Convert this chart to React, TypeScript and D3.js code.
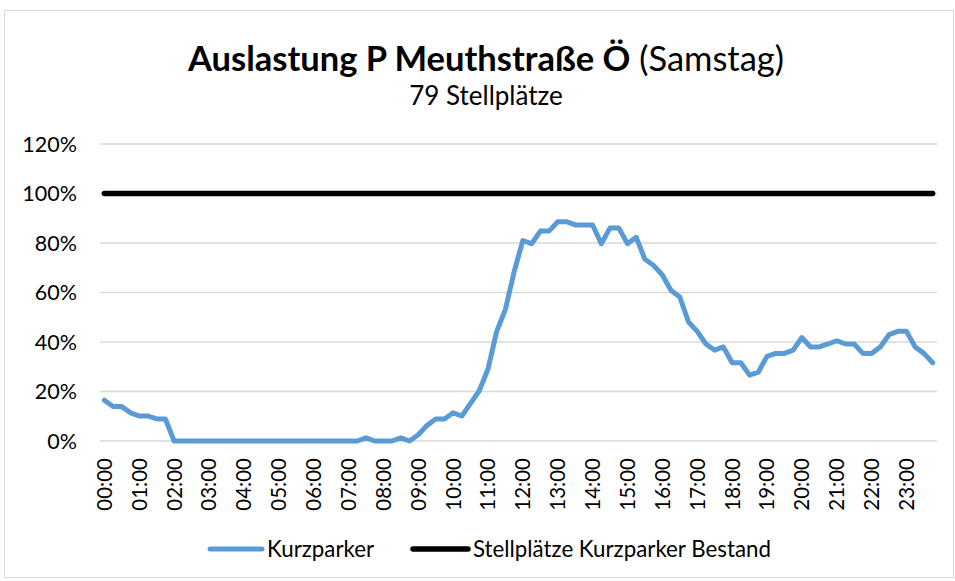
import React from "react";
import * as d3 from "d3";

const hourLabels = ["00:00","01:00","02:00","03:00","04:00","05:00","06:00","07:00","08:00","09:00","10:00","11:00","12:00","13:00","14:00","15:00","16:00","17:00","18:00","19:00","20:00","21:00","22:00","23:00"];
const quarterSuffix = ["00", "15", "30", "45"];
const categories: string[] = hourLabels.flatMap((h) => quarterSuffix.map((q) => h.slice(0, 3) + q));

// Kurzparker occupancy in percent, one value per quarter hour
const kurzparker = [
  16.5, 13.9, 13.9, 11.4, 10.1, 10.1, 8.9, 8.9,
  0, 0, 0, 0, 0, 0, 0, 0,
  0, 0, 0, 0, 0, 0, 0, 0,
  0, 0, 0, 0, 0, 0, 1.3, 0,
  0, 0, 1.3, 0, 2.5, 6.3, 8.9, 8.9,
  11.4, 10.1, 15.2, 20.3, 29.1, 44.3, 53.2, 68.4,
  81.0, 79.7, 84.8, 84.8, 88.6, 88.6, 87.3, 87.3,
  87.3, 79.7, 86.1, 86.1, 79.7, 82.3, 73.4, 70.9,
  67.1, 60.8, 58.2, 48.1, 44.3, 39.2, 36.7, 38.0,
  31.6, 31.6, 26.6, 27.8, 34.2, 35.4, 35.4, 36.7,
  41.8, 38.0, 38.0, 39.2, 40.5, 39.2, 39.2, 35.4,
  35.4, 38.0, 43.0, 44.3, 44.3, 38.0, 35.4, 31.6,
];

// Stellplätze Kurzparker Bestand (capacity) in percent
const bestand = [
  100, 100, 100, 100, 100, 100, 100, 100, 100, 100, 100, 100,
  100, 100, 100, 100, 100, 100, 100, 100, 100, 100, 100, 100,
  100, 100, 100, 100, 100, 100, 100, 100, 100, 100, 100, 100,
  100, 100, 100, 100, 100, 100, 100, 100, 100, 100, 100, 100,
  100, 100, 100, 100, 100, 100, 100, 100, 100, 100, 100, 100,
  100, 100, 100, 100, 100, 100, 100, 100, 100, 100, 100, 100,
  100, 100, 100, 100, 100, 100, 100, 100, 100, 100, 100, 100,
  100, 100, 100, 100, 100, 100, 100, 100, 100, 100, 100, 100,
];

const yTicks = [0, 20, 40, 60, 80, 100, 120];

const FONT = "Lato, 'Open Sans', sans-serif";

export default function App() {
  const W = 955, H = 581;
  const left = 100, right = 937, top = 144, bottom = 441;

  const x = d3.scaleBand<string>().domain(categories).range([left, right]).padding(0);
  const cx = (c: string) => (x(c) as number) + x.bandwidth() / 2;
  const y = d3.scaleLinear().domain([0, 120]).range([bottom, top]);

  const line = d3.line<number>()
    .x((_, i) => cx(categories[i]))
    .y((d) => y(d));

  return (
    <svg width={W} height={H} style={{ position: "fixed", left: 0, top: 0, background: "#fff" }} fontFamily={FONT}>
      <rect x={0} y={0} width={W} height={H} fill="#fff" />
      <rect x={4.5} y={10.5} width={949} height={567} fill="#fff" stroke="#D9D9D9" strokeWidth={1} />

      <text x={486} y={71} textAnchor="middle" fontSize={34.5} fill="#000">
        <tspan fontWeight="bold">Auslastung P Meuthstraße Ö</tspan>
        <tspan> (Samstag)</tspan>
      </text>
      <text x={486} y={105} textAnchor="middle" fontSize={26} fill="#000">79 Stellplätze</text>

      {yTicks.map((t) => (
        <g key={t}>
          <line x1={left} x2={right} y1={y(t)} y2={y(t)} stroke="#D9D9D9" strokeWidth={1.3} />
          <text x={77} y={y(t)} dy="0.36em" textAnchor="end" fontSize={21.5} fill="#000">{t}%</text>
        </g>
      ))}

      {hourLabels.map((h, i) => {
        const c = categories[i * 4];
        const px = cx(c);
        return (
          <text key={h} transform={`translate(${px},458) rotate(-90)`} dy="0.36em" textAnchor="end" fontSize={20.5} fill="#000">{h}</text>
        );
      })}

      <path d={line(bestand) || ""} fill="none" stroke="#000" strokeWidth={5.5} strokeLinecap="round" strokeLinejoin="round" />
      <path d={line(kurzparker) || ""} fill="none" stroke="#5B9BD5" strokeWidth={5} strokeLinecap="round" strokeLinejoin="round" />

      <g>
        <line x1={210} x2={262} y1={549} y2={549} stroke="#5B9BD5" strokeWidth={5} strokeLinecap="round" />
        <text x={267} y={549} dy="0.36em" fontSize={22.3} fill="#000">Kurzparker</text>
        <line x1={413} x2={468} y1={549} y2={549} stroke="#000" strokeWidth={5.5} strokeLinecap="round" />
        <text x={473} y={549} dy="0.36em" fontSize={22.3} fill="#000">Stellplätze Kurzparker Bestand</text>
      </g>
    </svg>
  );
}
